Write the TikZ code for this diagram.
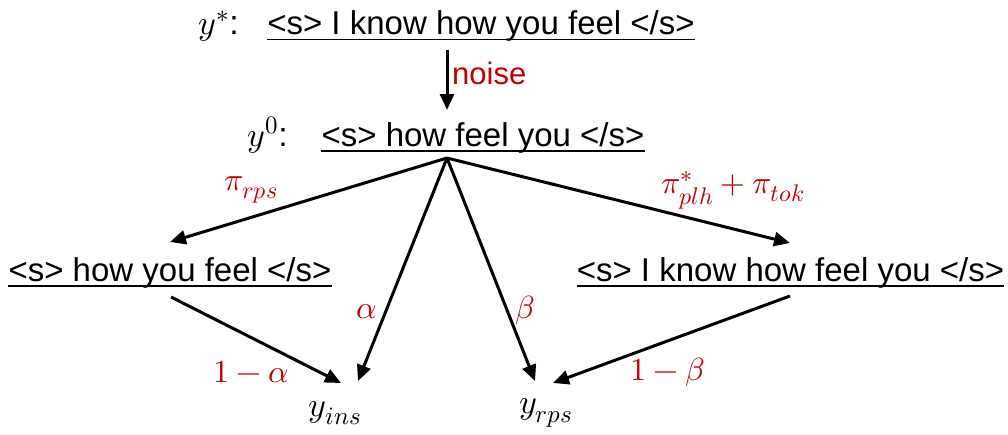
\documentclass[tikz,border=0pt]{standalone}
\usepackage{fontspec}
\usepackage{unicode-math}
\setmainfont{Liberation Sans}
\setmathfont{Latin Modern Math}
\DeclareMathSizes{32}{32}{24}{19}
\DeclareMathSizes{34}{34}{25}{20}
\usetikzlibrary{arrows.meta}
\definecolor{lblred}{RGB}{192,0,0}
\begin{document}
\begin{tikzpicture}[x=1pt,y=-1pt,
  sent/.style={font=\fontsize{33}{36}\selectfont, inner sep=0pt, anchor=base},
  mlbl/.style={font=\fontsize{34}{38}\selectfont, inner sep=0pt},
  redlbl/.style={font=\fontsize{32}{36}\selectfont, inner sep=0pt, text=lblred},
  arr/.style={line width=3pt, -{Triangle[length=16pt,width=14pt]}},
  uline/.style={line width=1.6pt}]
\useasboundingbox (0,0) rectangle (1008,434);

% sentences
\node[sent] (s1) at (481,34.5) {<s> I know how you feel </s>};
\node[sent] (s2) at (483,146) {<s> how feel you </s>};
\node[sent] (sL) at (170,281) {<s> how you feel </s>};
\node[sent] (sR) at (790.5,281) {<s> I know how feel you </s>};
\foreach \n in {s1,s2,sL,sR}
  \draw[uline] ([yshift=-5pt]\n.base west) -- ([yshift=-5pt]\n.base east);

% left labels
\node[mlbl, anchor=base east] (ystar) at (239,34.5) {$y^{*}$:};
\node[mlbl, anchor=base east] (yzero) at (288,146) {$y^{0}$:};

% outcomes
\node[mlbl] (yins) at (335,413) {$y_{ins}$};
\node[mlbl] (yrps) at (546,413) {$y_{rps}$};

% coordinates
\coordinate (n1) at (447,50);
\coordinate (n2) at (447,110);
\coordinate (src) at (447,158);
\coordinate (tL) at (170,242);
\coordinate (tR) at (790,243);
\coordinate (tA) at (358,381);
\coordinate (tB) at (535,381);
\coordinate (fL) at (171,297);
\coordinate (fR) at (790,296);
\coordinate (tLA) at (341,383);
\coordinate (tRB) at (553,383);

% arrows
\draw[arr] (n1) -- (n2);
\draw[arr] (src) -- (tL);
\draw[arr] (src) -- (tR);
\draw[arr] (src) -- (tA);
\draw[arr] (src) -- (tB);
\draw[arr] (fL) -- (tLA);
\draw[arr] (fR) -- (tRB);

% red labels
\node[text=lblred, inner sep=0pt, font=\fontsize{31}{34}\selectfont, anchor=base west] (noise) at (452,84) {noise};
\node[redlbl] (lrps) at (251,190) {$\pi_{rps}$};
\node[redlbl] (lplh) at (733,190) {$\pi_{plh}^{*}+\pi_{tok}$};
\node[redlbl] (lal) at (367,312) {$\alpha$};
\node[redlbl] (lbe) at (525,310) {$\beta$};
\node[redlbl] (l1a) at (251,372) {$1-\alpha$};
\node[redlbl] (l1b) at (668,372) {$1-\beta$};
\end{tikzpicture}
\end{document}
